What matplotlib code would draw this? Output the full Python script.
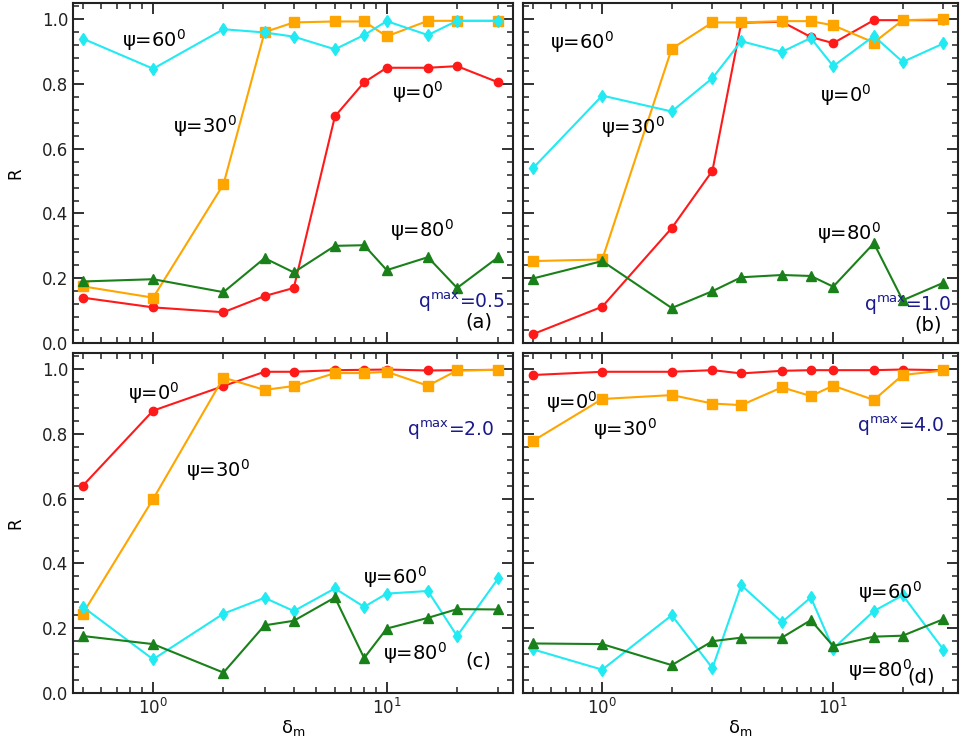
import matplotlib as mpl
mpl.use('Agg')
import matplotlib.pyplot as plt
from matplotlib.ticker import MultipleLocator, LogLocator, NullFormatter

# damping ratio values (same for every panel)
delta_m = [0.5, 1, 2, 3, 4, 6, 8, 10, 15, 20, 30]

# R for psi = 0, 30, 60, 80 deg, one block per q_max
r_a_0 = [0.14, 0.11, 0.095, 0.145, 0.17, 0.70, 0.805, 0.85, 0.85, 0.855, 0.805]
r_a_30 = [0.175, 0.14, 0.49, 0.96, 0.99, 0.993, 0.993, 0.947, 0.995, 0.995, 0.995]
r_a_60 = [0.94, 0.847, 0.969, 0.959, 0.946, 0.907, 0.951, 0.994, 0.951, 0.995, 0.995]
r_a_80 = [0.19, 0.197, 0.157, 0.262, 0.218, 0.30, 0.302, 0.225, 0.265, 0.17, 0.265]

r_b_0 = [0.027, 0.112, 0.355, 0.532, 0.989, 0.992, 0.945, 0.926, 0.997, 0.997, 0.997]
r_b_30 = [0.253, 0.258, 0.909, 0.99, 0.99, 0.994, 0.994, 0.981, 0.928, 0.997, 1.0]
r_b_60 = [0.539, 0.764, 0.715, 0.818, 0.932, 0.899, 0.942, 0.855, 0.948, 0.868, 0.925]
r_b_80 = [0.199, 0.253, 0.108, 0.16, 0.203, 0.21, 0.207, 0.174, 0.308, 0.132, 0.186]

r_c_0 = [0.640, 0.872, 0.948, 0.992, 0.992, 0.997, 0.998, 0.999, 0.996, 0.997, 0.998]
r_c_30 = [0.245, 0.599, 0.974, 0.936, 0.948, 0.988, 0.988, 0.992, 0.949, 0.996, 0.998]
r_c_60 = [0.266, 0.104, 0.245, 0.294, 0.253, 0.323, 0.266, 0.307, 0.315, 0.176, 0.354]
r_c_80 = [0.176, 0.151, 0.063, 0.209, 0.223, 0.295, 0.108, 0.199, 0.232, 0.259, 0.258]

r_d_0 = [0.982, 0.992, 0.992, 0.997, 0.987, 0.995, 0.997, 0.997, 0.997, 0.999, 0.997]
r_d_30 = [0.778, 0.908, 0.920, 0.894, 0.889, 0.944, 0.917, 0.949, 0.905, 0.982, 0.996]
r_d_60 = [0.135, 0.072, 0.240, 0.077, 0.333, 0.219, 0.295, 0.137, 0.253, 0.302, 0.134]
r_d_80 = [0.153, 0.151, 0.086, 0.160, 0.171, 0.171, 0.225, 0.145, 0.174, 0.177, 0.228]

q_max = ["0.5", "1.0", "2.0", "4.0"]
panel_tags = ["(a)", "(b)", "(c)", "(d)"]

series = [
    [r_a_0, r_a_30, r_a_60, r_a_80],
    [r_b_0, r_b_30, r_b_60, r_b_80],
    [r_c_0, r_c_30, r_c_60, r_c_80],
    [r_d_0, r_d_30, r_d_60, r_d_80],
]

colors = ['#ff1a1a', '#ffa500', '#22eaf2', '#1a801a']
markers = ['o', 's', 'd', '^']
msizes = [6, 6.5, 6.5, 6.5]

# label placement in axes fraction: psi=0, 30, 60, 80, q_max, tag
label_pos = [
    [(0.725, 0.738), (0.227, 0.638), (0.111, 0.891), (0.720, 0.332), (0.982, 0.121), (0.952, 0.062)],
    [(0.683, 0.729), (0.179, 0.635), (0.062, 0.885), (0.676, 0.324), (0.986, 0.112), (0.963, 0.053)],
    [(0.125, 0.882), (0.257, 0.656), (0.659, 0.341), (0.705, 0.118), (0.959, 0.774), (0.950, 0.094)],
    [(0.053, 0.856), (0.161, 0.776), (0.770, 0.297), (0.747, 0.068), (0.970, 0.785), (0.883, 0.047)],
]
psi = [0, 30, 60, 80]

fig = plt.figure(figsize=(9.6, 7.4), dpi=100)
W, H = 960, 740
boxes = [(73, 3, 513, 343), (523, 3, 958, 343), (73, 353, 513, 693), (523, 353, 958, 693)]

for k, (x0, y0, x1, y1) in enumerate(boxes):
    ax = fig.add_axes([x0 / W, 1 - y1 / H, (x1 - x0) / W, (y1 - y0) / H])
    for j in range(4):
        ax.plot(delta_m, series[k][j], '-', color=colors[j], marker=markers[j],
                ms=msizes[j], lw=1.5, mec=colors[j])
    ax.set_xscale('log')
    ax.set_xlim(0.454, 34.7)
    ax.set_ylim(0, 1.05)
    ax.yaxis.set_major_locator(MultipleLocator(0.2))
    ax.yaxis.set_minor_locator(MultipleLocator(0.04))
    ax.xaxis.set_major_locator(LogLocator(base=10))
    ax.xaxis.set_minor_locator(LogLocator(base=10, subs=range(2, 10)))
    ax.xaxis.set_minor_formatter(NullFormatter())
    ax.tick_params(which='both', direction='in', top=True, right=True,
                   labelsize=12, colors='#222222')
    ax.tick_params(which='major', length=8, width=1.3)
    ax.tick_params(which='minor', length=4, width=1.1)
    for s in ax.spines.values():
        s.set_linewidth(1.5)
        s.set_color('#222222')
    if k % 2 == 1:
        ax.set_yticklabels([])
    else:
        ax.set_ylabel('R', fontsize=12)
        ax.yaxis.set_label_coords(-0.11, 0.5)
    if k < 2:
        ax.set_xticklabels([])
    else:
        ax.set_xlabel('δ$_\\mathrm{m}$', fontsize=13, labelpad=0)

    pos = label_pos[k]
    for j in range(4):
        ax.text(pos[j][0], pos[j][1], 'ψ=%d$^0$' % psi[j], transform=ax.transAxes,
                fontsize=14, ha='left', va='center')
    ax.text(pos[4][0], pos[4][1], 'q$^\\mathrm{max}$=' + q_max[k], transform=ax.transAxes,
            fontsize=13.5, ha='right', va='center', color='#1a1a8c')
    ax.text(pos[5][0], pos[5][1], panel_tags[k], transform=ax.transAxes,
            fontsize=14, ha='left' if k == 3 else 'right', va='center')

plt.savefig('out.png', dpi=100)
